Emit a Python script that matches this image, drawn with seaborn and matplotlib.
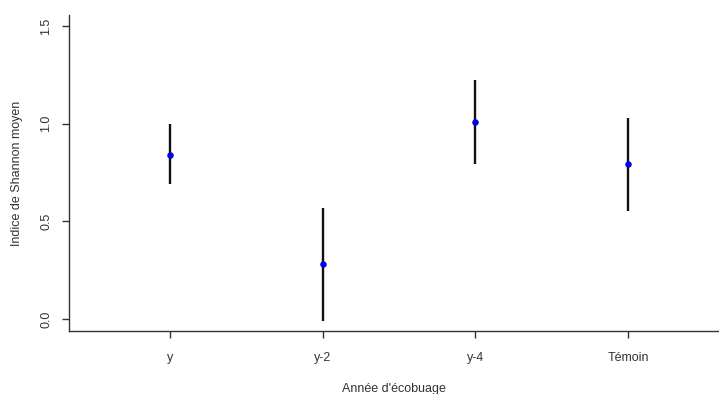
import numpy as np
import pandas as pd
import matplotlib
matplotlib.use("Agg")
import matplotlib.pyplot as plt
import seaborn as sns

# Shannon index mean with interval per burning year
categories = ["y", "y-2", "y-4", "Témoin"]
means = [0.84, 0.28, 1.01, 0.795]
lower = [0.69, -0.01, 0.795, 0.555]
upper = [1.0, 0.57, 1.225, 1.03]

df = pd.DataFrame({"annee": categories, "moyen": means, "bas": lower, "haut": upper})
df["pos"] = np.arange(len(df))

sns.set_style("white")
plt.rcParams["font.family"] = ["Liberation Sans", "DejaVu Sans"]

fig = plt.figure(figsize=(7.19, 3.94), dpi=100)
ax = fig.add_axes([69 / 719, 1 - 331 / 394, 650 / 719, 316 / 394])

ink = "#333333"

# error bars first, then the points on top
ax.vlines(df["pos"], df["bas"], df["haut"], color="#111111", linewidth=1.7, zorder=2)
sns.scatterplot(data=df, x="pos", y="moyen", ax=ax, color="#0000ee", s=22,
                edgecolor="#0000ee", linewidth=0, zorder=3, legend=False)

ax.set_xlim(-0.662, 3.596)
ax.set_ylim(-0.0614, 1.557)
ax.set_xticks(df["pos"])
ax.set_xticklabels(categories)
ax.set_yticks([0.0, 0.5, 1.0, 1.5])
ax.set_yticklabels(["0.0", "0.5", "1.0", "1.5"], rotation=90, va="center")

sns.despine(ax=ax)
for side in ["left", "bottom"]:
    ax.spines[side].set_color(ink)
    ax.spines[side].set_linewidth(1.0)

ax.tick_params(axis="both", direction="out", length=5, width=1.0, color=ink,
               labelcolor=ink, labelsize=9, bottom=True, left=True)
ax.tick_params(axis="x", pad=10)
ax.tick_params(axis="y", pad=7)

ax.set_xlabel("Année d'écobuage", fontsize=9, color=ink)
ax.set_ylabel("Indice de Shannon moyen", fontsize=9, color=ink)
ax.xaxis.set_label_coords(0.5, -0.165)
ax.yaxis.set_label_coords(-0.07, 0.5)

fig.savefig("out.png", dpi=100)
